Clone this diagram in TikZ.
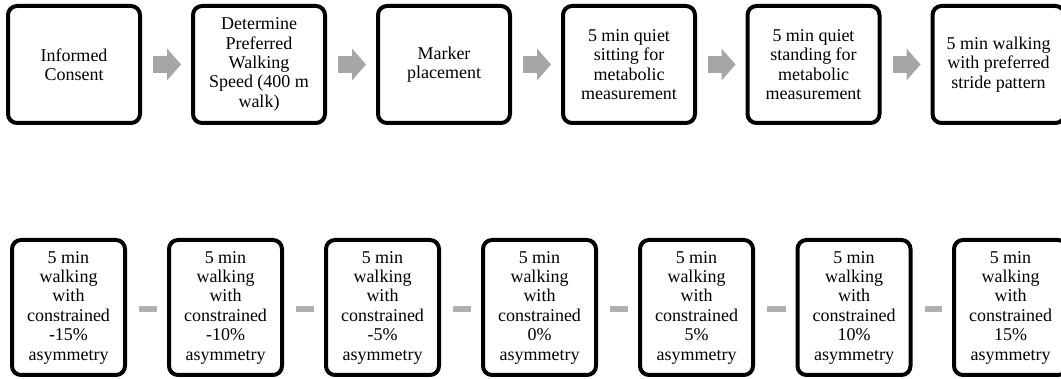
\documentclass[tikz,border=0pt]{standalone}
\usepackage{fontspec}
\setmainfont{Liberation Serif}
\usetikzlibrary{arrows.meta}
\definecolor{arrgray}{HTML}{A6A6A6}
\definecolor{bargray}{HTML}{B0B0B0}
\begin{document}
\begin{tikzpicture}[x=1pt,y=-1pt,
  box/.style={draw, line width=4pt, rounded corners=9pt, align=center,
    font=\fontsize{18}{19.4}\selectfont, inner sep=0pt, fill=white},
  topbox/.style={box, minimum width=132pt, minimum height=117pt},
  botbox/.style={box, minimum width=113pt, minimum height=135pt},
  blockarrow/.style={draw=arrgray, line width=17pt,
    -{Triangle[width=32pt,length=14pt,line width=0pt,fill=arrgray]}},
  linkbar/.style={draw=bargray, line width=6pt}
]
\clip (0,0) rectangle (1061,379);
\fill[white] (0,0) rectangle (1061,379);

% top row
\node[topbox] (t1) at (74,64.5) {Informed\\Consent};
\node[topbox] (t2) at (259,64.5) {Determine\\Preferred\\Walking\\Speed (400 m\\walk)};
\node[topbox] (t3) at (444,64.5) {Marker\\placement};
\node[topbox] (t4) at (629,64.5) {5 min quiet\\sitting for\\metabolic\\measurement};
\node[topbox] (t5) at (813.5,64.5) {5 min quiet\\standing for\\metabolic\\measurement};
\node[topbox] (t6) at (998.5,64.5) {5 min walking\\with preferred\\stride pattern};

\foreach \a/\b in {t1/t2,t2/t3,t3/t4,t4/t5,t5/t6}
  \draw[blockarrow] ([xshift=11pt]\a.east) -- ([xshift=-10pt]\b.west);

% bottom row
\node[botbox] (b1) at (68.5,307.5) {5 min\\walking\\with\\constrained\\-15\%\\asymmetry};
\node[botbox] (b2) at (225.5,307.5) {5 min\\walking\\with\\constrained\\-10\%\\asymmetry};
\node[botbox] (b3) at (382.5,307.5) {5 min\\walking\\with\\constrained\\-5\%\\asymmetry};
\node[botbox] (b4) at (539.5,307.5) {5 min\\walking\\with\\constrained\\0\%\\asymmetry};
\node[botbox] (b5) at (696.5,307.5) {5 min\\walking\\with\\constrained\\5\%\\asymmetry};
\node[botbox] (b6) at (854,307.5) {5 min\\walking\\with\\constrained\\10\%\\asymmetry};
\node[botbox] (b7) at (1010.5,307.5) {5 min\\walking\\with\\constrained\\15\%\\asymmetry};

\foreach \a/\b in {b1/b2,b2/b3,b3/b4,b4/b5,b5/b6,b6/b7}
  \draw[linkbar] ([xshift=12pt,yshift=-1.5pt]\a.east) -- ([xshift=-10pt,yshift=-1.5pt]\b.west);
\end{tikzpicture}
\end{document}
